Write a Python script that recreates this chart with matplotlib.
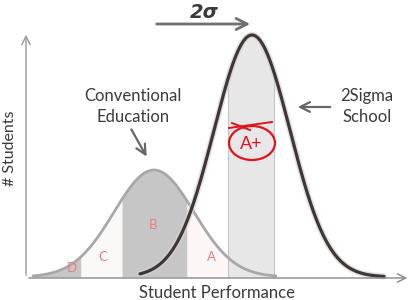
import numpy as np
import matplotlib
matplotlib.use("Agg")
import matplotlib.pyplot as plt
from matplotlib.patches import Ellipse
import matplotlib.patheffects as pe

# --- data (pixel-like performance / count units) ---
conv_mu, conv_sigma, conv_peak = 154, 40, 107
conv_range = (33, 276)
sig_mu, sig_sigma, sig_peak = 252, 38, 242
sig_range = (140, 384)
grade_labels = ["D", "C", "B", "A"]
grade_bounds = [33, 81, 122, 187, 228]
grade_colors = ["#c6c6c6", "#fbf8f8", "#c6c6c6", "#fdf6f6"]
grade_label_pos = [(72, 9), (103, 20), (153, 52), (211, 20)]
aplus_band = (228, 274)

def gauss(x, mu, s, h):
    return h * np.exp(-(x - mu) ** 2 / (2 * s ** 2))

fig = plt.figure(figsize=(4.13, 3.0), dpi=100)
ax = fig.add_axes([0, 0, 1, 1])
ax.set_xlim(0, 413)
ax.set_ylim(-23, 277)
ax.axis("off")

# grade fills under conventional curve
for i in range(4):
    xs = np.linspace(grade_bounds[i], grade_bounds[i + 1], 100)
    ax.fill_between(xs, 0, gauss(xs, conv_mu, conv_sigma, conv_peak),
                    color=grade_colors[i], lw=0, zorder=1)
    ax.text(*grade_label_pos[i], grade_labels[i], color="#f07c7c",
            fontsize=9.5, ha="center", va="center", family="Lato", zorder=6)

# A+ band under 2 sigma curve
xs = np.linspace(*aplus_band, 100)
ax.fill_between(xs, 0, gauss(xs, sig_mu, sig_sigma, sig_peak),
                color="#e7e7e7", lw=0, zorder=2)
for xe in aplus_band:
    ax.plot([xe, xe], [0, gauss(xe, sig_mu, sig_sigma, sig_peak)],
            color="#c4c4c4", lw=0.8, zorder=2)

# conventional curve
xc = np.linspace(*conv_range, 400)
ax.plot(xc, gauss(xc, conv_mu, conv_sigma, conv_peak), color="#a8a8a8",
        lw=2, zorder=3, solid_capstyle="round")

# 2 sigma curve with soft shadow
xsg = np.linspace(*sig_range, 400)
ysg = gauss(xsg, sig_mu, sig_sigma, sig_peak)
ax.plot(xsg, ysg, color="#3f3636", lw=2.3, zorder=4, solid_capstyle="round",
        path_effects=[pe.Stroke(linewidth=4.5, foreground="#d8d4d4", alpha=0.7),
                      pe.Normal()])

# axes arrows
ax.annotate("", xy=(26, 245), xytext=(26, -1),
            arrowprops=dict(arrowstyle="->,head_length=0.6,head_width=0.3",
                            color="#999999", lw=1), zorder=5)
ax.annotate("", xy=(410, -1), xytext=(26, -1),
            arrowprops=dict(arrowstyle="->,head_length=0.6,head_width=0.3",
                            color="#888888", lw=1), zorder=5)

txt = dict(family="Lato", color="#3a3a3a")
ax.text(217, -16, "Student Performance", fontsize=12, ha="center", va="center", **txt)
ax.text(10, 129, "# Students", fontsize=11.5, ha="center", va="center", rotation=90, **txt)
ax.text(133, 181, "Conventional", fontsize=12, ha="center", va="center", **txt)
ax.text(133, 160, "Education", fontsize=12, ha="center", va="center", **txt)
ax.text(367, 181, "2Sigma", fontsize=12, ha="center", va="center", **txt)
ax.text(367, 160, "School", fontsize=12, ha="center", va="center", **txt)

ax.annotate("", xy=(148, 118), xytext=(130, 150),
            arrowprops=dict(arrowstyle="->,head_length=0.7,head_width=0.35",
                            color="#666666", lw=1.6))
ax.annotate("", xy=(295, 170), xytext=(333, 170),
            arrowprops=dict(arrowstyle="->,head_length=0.7,head_width=0.35",
                            color="#666666", lw=1.6))
ax.annotate("", xy=(253, 253), xytext=(154, 253),
            arrowprops=dict(arrowstyle="->,head_length=0.8,head_width=0.4",
                            color="#707070", lw=2))
ax.text(204, 265, "2σ", fontsize=14, fontweight="bold", fontstyle="italic",
        ha="center", va="center", color="#3a3a3a", family="DejaVu Sans")

# A+ grade mark
ax.add_patch(Ellipse((252, 134), 46, 34, fill=False, ec="#e0141c", lw=1.6, zorder=7))
ax.plot([229, 272], [149, 155], color="#e0141c", lw=1.4, zorder=7)
ax.plot([232, 250], [154, 147], color="#e0141c", lw=1.4, zorder=7)
ax.text(251, 133, "A+", fontsize=13, color="#e0141c", ha="center", va="center",
        family="Lato", zorder=7)

fig.savefig("out.png", dpi=100)
